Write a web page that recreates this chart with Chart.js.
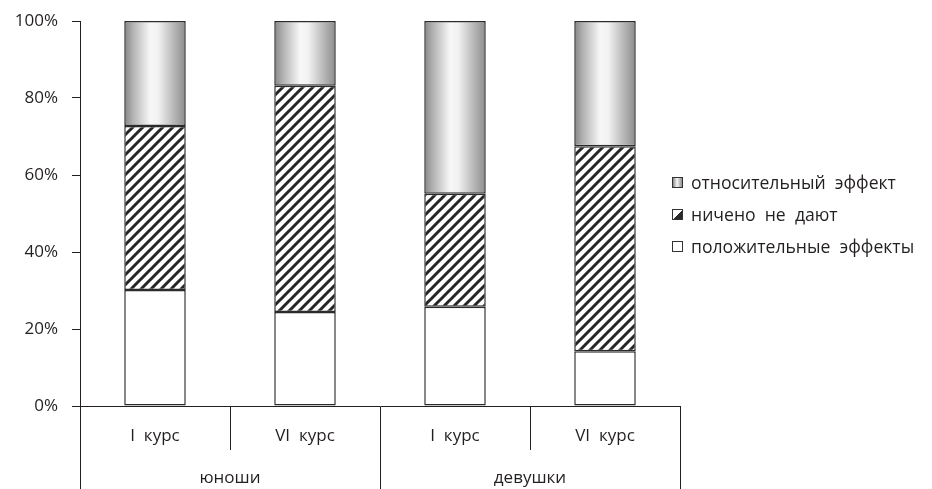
<!DOCTYPE html>
<html>
<head>
<meta charset="utf-8">
<script src="https://cdn.jsdelivr.net/npm/chart.js@4/dist/chart.umd.min.js"></script>
<style>
  html, body { margin: 0; padding: 0; background: #fff; }
  #wrap { position: relative; width: 932px; height: 489px; }
  #legend { position: absolute; left: 672px; top: 171px; font-family: "Open Sans", sans-serif; font-size: 17.6px; color: #231f20; }
  .li { position: relative; height: 32px; line-height: 23px; white-space: pre; }
  .sw { display: inline-block; width: 11px; height: 11px; border: 1px solid #333; vertical-align: middle; margin-right: 8px; position: relative; top: -2px; box-sizing: border-box; }
</style>
</head>
<body>
<div id="wrap">
  <canvas id="c" width="932" height="489"></canvas>
  <div id="legend"></div>
</div>
<script>
// ---- data ----
const courseLabels = ['I  курс', 'VI  курс', 'I  курс', 'VI  курс'];
const groupLabels = ['юноши', 'девушки'];
const seriesNames = ['положительные  эффекты', 'ничено  не  дают', 'относительный  эффект'];
const positiveVals = [30.1, 24.4, 25.8, 14.2];
const nothingVals = [42.6, 58.8, 29.3, 53.3];
const relativeVals = [27.3, 16.8, 44.9, 32.5];
const yTicks = [0, 20, 40, 60, 80, 100];

const INK = '#231f20';
const FONT = '"Open Sans", sans-serif';
const FS = 17;

// HTML legend (reverse order, as in the reference)
const swatches = [
  'background:#fff;',
  'background:linear-gradient(135deg,#fff 0 50%,#2a2a2a 50% 100%);',
  'background:linear-gradient(90deg,#888,#f7f7f7 45%,#8c8c8c);'
];
const legend = document.getElementById('legend');
for (let i = seriesNames.length - 1; i >= 0; i--) {
  const d = document.createElement('div');
  d.className = 'li';
  const sw = document.createElement('span');
  sw.className = 'sw';
  sw.style.cssText = swatches[i];
  d.appendChild(sw);
  d.appendChild(document.createTextNode(seriesNames[i]));
  legend.appendChild(d);
}

function makeHatch(ctx) {
  const s = 10;
  const c = document.createElement('canvas');
  c.width = s; c.height = s;
  const g = c.getContext('2d');
  g.fillStyle = '#fff'; g.fillRect(0, 0, s, s);
  g.strokeStyle = '#262626'; g.lineWidth = 3;
  g.beginPath();
  g.moveTo(-2, s + 2); g.lineTo(s + 2, -2);
  g.moveTo(-2, 2); g.lineTo(2, -2);
  g.moveTo(s - 2, s + 2); g.lineTo(s + 2, s - 2);
  g.stroke();
  return ctx.createPattern(c, 'repeat');
}

const canvas = document.getElementById('c');
const ctx0 = canvas.getContext('2d');
const hatch = makeHatch(ctx0);

const BAR_PCT = 0.41;
function gradFill(context) {
  const chart = context.chart;
  const xs = chart.scales && chart.scales.x;
  if (!xs || context.dataIndex === undefined) return '#cccccc';
  const cx = xs.getPixelForValue(context.dataIndex);
  const w = xs.width / courseLabels.length * BAR_PCT;
  if (!isFinite(cx) || !isFinite(w) || w <= 0) return '#cccccc';
  const g = chart.ctx.createLinearGradient(cx - w / 2, 0, cx + w / 2, 0);
  g.addColorStop(0, '#868686');
  g.addColorStop(0.15, '#b4b4b4');
  g.addColorStop(0.42, '#f7f7f7');
  g.addColorStop(0.55, '#f2f2f2');
  g.addColorStop(0.85, '#adadad');
  g.addColorStop(1, '#8c8c8c');
  return g;
}

const common = { borderColor: '#2b2b2b', borderWidth: 1.5, borderSkipped: false, barPercentage: BAR_PCT, categoryPercentage: 1 };

new Chart(canvas, {
  type: 'bar',
  data: {
    labels: courseLabels,
    datasets: [
      Object.assign({ label: seriesNames[0], data: positiveVals, backgroundColor: '#ffffff' }, common),
      Object.assign({ label: seriesNames[1], data: nothingVals, backgroundColor: hatch }, common),
      Object.assign({ label: seriesNames[2], data: relativeVals, backgroundColor: gradFill }, common)
    ]
  },
  options: {
    responsive: false,
    devicePixelRatio: 1,
    animation: false,
    layout: { padding: { top: 21, right: 252, left: 0, bottom: 0 } },
    plugins: { legend: { display: false }, tooltip: { enabled: false } },
    scales: {
      y: {
        stacked: true, min: 0, max: 100,
        afterBuildTicks: s => { s.ticks = yTicks.map(v => ({ value: v })); },
        afterFit: s => { s.width = 80; s.paddingTop = 0; s.paddingBottom = 0; },
        ticks: { callback: v => v + '%', color: INK, font: { family: FONT, size: FS }, padding: 14 },
        grid: { drawOnChartArea: false, drawTicks: true, tickLength: 8, color: INK, lineWidth: 1 },
        border: { display: true, color: INK, width: 1 }
      },
      x: {
        stacked: true, position: 'bottom', weight: 0,
        afterFit: s => { s.height = 44; s.paddingLeft = 0; s.paddingRight = 0; },
        ticks: { color: INK, font: { family: FONT, size: FS }, padding: -24.2, maxRotation: 0, autoSkip: false },
        grid: { offset: true, drawOnChartArea: false, drawTicks: true, tickLength: 44, color: INK, lineWidth: 1 },
        border: { display: true, color: INK, width: 1 }
      },
      x2: {
        type: 'category', labels: groupLabels, position: 'bottom', weight: 1, offset: true,
        afterFit: s => { s.height = 39; s.paddingLeft = 0; s.paddingRight = 0; },
        ticks: { color: INK, font: { family: FONT, size: FS }, padding: -21.2, maxRotation: 0, autoSkip: false },
        grid: { offset: true, drawOnChartArea: false, drawTicks: true, tickLength: 39, color: INK, lineWidth: 1 },
        border: { display: false }
      }
    }
  }
});
</script>
</body>
</html>
